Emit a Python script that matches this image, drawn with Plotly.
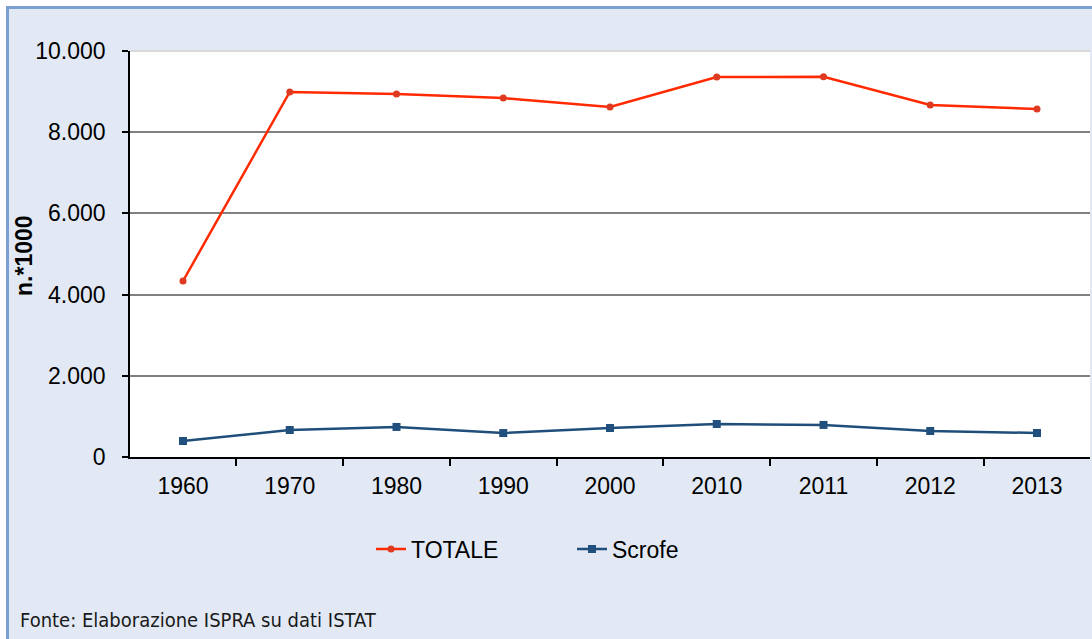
import plotly.graph_objects as go

years = ["1960", "1970", "1980", "1990", "2000", "2010", "2011", "2012", "2013"]
totale = [4335, 8990, 8940, 8840, 8620, 9360, 9365, 8670, 8570]
scrofe = [394, 665, 740, 590, 714, 813, 790, 640, 591]
y_ticks = [0, 2000, 4000, 6000, 8000, 10000]

W, H = 1092, 639
L, R, T, B = 130, 2, 51, 182
pw, ph = W - L - R, H - T - B

def px(x):
    return (x - L) / pw

def py(y):
    return (H - B - y) / ph

fig = go.Figure()
fig.add_trace(go.Scatter(
    x=years, y=totale, name="TOTALE", mode="lines+markers",
    line=dict(color="#FF2A00", width=2.5),
    marker=dict(symbol="circle", size=7, color="#DE3A22"),
))
fig.add_trace(go.Scatter(
    x=years, y=scrofe, name="Scrofe", mode="lines+markers",
    line=dict(color="#1F4E7A", width=2.5),
    marker=dict(symbol="square", size=8, color="#22507E"),
))

border = "#7B9FD4"
shapes = [
    dict(type="rect", xref="paper", yref="paper", x0=px(-5), x1=px(W + 5), y0=py(6), y1=py(-5),
         fillcolor="white", line=dict(width=0), layer="below"),
    dict(type="rect", xref="paper", yref="paper", x0=px(-5), x1=px(6), y0=py(H + 5), y1=py(-5),
         fillcolor="white", line=dict(width=0), layer="below"),
    dict(type="line", xref="paper", yref="paper", x0=px(6), x1=px(W + 5), y0=py(7.5), y1=py(7.5),
         line=dict(color=border, width=3)),
    dict(type="line", xref="paper", yref="paper", x0=px(7.5), x1=px(7.5), y0=py(6), y1=py(H + 5),
         line=dict(color=border, width=3)),
    dict(type="line", xref="paper", yref="paper", x0=0, x1=1, y0=1, y1=1,
         line=dict(color="#D9D9D9", width=2)),
]

fig.update_layout(
    width=W, height=H,
    margin=dict(l=L, r=R, t=T, b=B),
    paper_bgcolor="#E2E9F4",
    plot_bgcolor="white",
    separators=",.",
    font=dict(family="Liberation Sans, Arial, sans-serif", size=23, color="black"),
    showlegend=True,
    legend=dict(orientation="h", x=px(572), xanchor="center", y=py(549), yanchor="middle",
                bgcolor="rgba(0,0,0,0)", font=dict(size=23), entrywidth=156, itemwidth=30),
    shapes=shapes,
    annotations=[
        dict(text="<b>n.*1000</b>", xref="paper", yref="paper", x=px(24), y=py(256),
             textangle=-90, showarrow=False, font=dict(size=23), xanchor="center", yanchor="middle"),
        dict(text="Fonte: Elaborazione ISPRA su dati ISTAT", xref="paper", yref="paper",
             x=px(18), y=py(620), xanchor="left", yanchor="middle", showarrow=False,
             font=dict(family="Liberation Sans Narrow, Arial Narrow, DejaVu Sans Condensed, sans-serif",
                       size=20, color="#1a1a1a")),
    ],
)

fig.update_xaxes(
    type="category", showgrid=False, showline=True, linecolor="black", linewidth=1.5,
    ticks="outside", tickson="boundaries", ticklen=7, tickcolor="black", tickwidth=1.5,
    ticklabelstandoff=8, zeroline=False,
)
fig.update_yaxes(
    range=[0, 10000], tickvals=y_ticks, tickformat=",d",
    showgrid=True, gridcolor="#808080", gridwidth=1.5,
    showline=True, linecolor="black", linewidth=1.5,
    ticks="outside", ticklen=6, tickcolor="black", tickwidth=1.5,
    ticklabelstandoff=12, zeroline=False,
)

fig.write_html("out.html", config={"displayModeBar": False},
               post_script="document.body.style.margin='0px';document.body.style.padding='0px';")
